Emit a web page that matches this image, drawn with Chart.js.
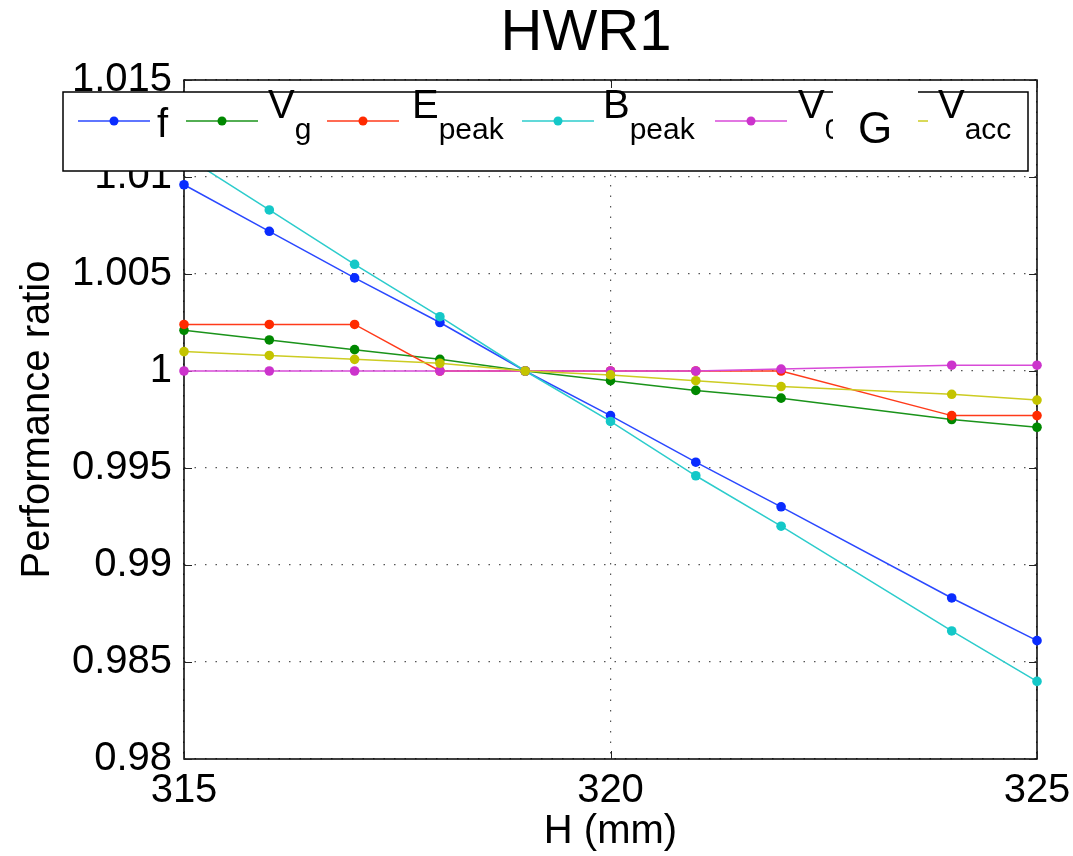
<!DOCTYPE html>
<html>
<head>
<meta charset="utf-8">
<title>HWR1</title>
<script src="https://cdn.jsdelivr.net/npm/chart.js@4.4.1/dist/chart.umd.min.js"></script>
<style>
  html, body { margin: 0; padding: 0; background: #fff; }
</style>
</head>
<body>
<canvas id="myChart" width="1073" height="856"></canvas>
<script>
// H (mm) sample positions, no point at 323
const heights = [315, 316, 317, 318, 319, 320, 321, 322, 324, 325];

// performance ratios
const fRatio     = [1.0096, 1.0072, 1.0048, 1.0025, 1.0, 0.9977, 0.9953, 0.9930, 0.9883, 0.9861];
const vgRatio    = [1.0021, 1.0016, 1.0011, 1.0006, 1.0, 0.9995, 0.9990, 0.9986, 0.9975, 0.9971];
const ePeakRatio = [1.0024, 1.0024, 1.0024, 1.0, 1.0, 1.0, 1.0, 1.0, 0.9977, 0.9977];
const bPeakRatio = [1.0111, 1.0083, 1.0055, 1.0028, 1.0, 0.9974, 0.9946, 0.9920, 0.9866, 0.9840];
const v0Ratio    = [1.0, 1.0, 1.0, 1.0, 1.0, 1.0, 1.0, 1.0001, 1.0003, 1.0003];
const vaccRatio  = [1.0010, 1.0008, 1.0006, 1.0004, 1.0, 0.9998, 0.9995, 0.9992, 0.9988, 0.9985];

const xTicks = [315, 320, 325];
const yTicks = [0.98, 0.985, 0.99, 0.995, 1, 1.005, 1.01, 1.015];
const yTickLabels = ['0.98', '0.985', '0.99', '0.995', '1', '1.005', '1.01', '1.015'];

const FONT = '"Liberation Sans", Arial, Helvetica, sans-serif';

// name, subscript, line colour, marker colour
const seriesInfo = [
    { main: 'f', sub: '',     line: '#2a48ff', dot: '#0a2cff', data: fRatio },
    { main: 'V', sub: 'g',    line: '#1a931a', dot: '#008800', data: vgRatio },
    { main: 'E', sub: 'peak', line: '#ff3a1a', dot: '#ff2a00', data: ePeakRatio },
    { main: 'B', sub: 'peak', line: '#2ccccc', dot: '#14c8c8', data: bPeakRatio },
    { main: 'V', sub: '0',    line: '#d84ad8', dot: '#cc33cc', data: v0Ratio },
    { main: 'V', sub: 'acc',  line: '#cccc22', dot: '#c4c400', data: vaccRatio },
];

// frame and inward tick marks, drawn under the data like matlab
const framePlugin = {
    id: 'frame',
    beforeDatasetsDraw(chart) {
        const { ctx, chartArea: a, scales } = chart;
        ctx.save();
        ctx.strokeStyle = '#000';
        ctx.lineWidth = 1.5;
        ctx.strokeRect(a.left, a.top, a.right - a.left, a.bottom - a.top);
        ctx.lineWidth = 1;
        ctx.strokeStyle = '#222';
        ctx.beginPath();
        yTicks.forEach(v => {
            const y = Math.round(scales.y.getPixelForValue(v)) + 0.5;
            ctx.moveTo(a.left, y); ctx.lineTo(a.left + 8, y);
            ctx.moveTo(a.right, y); ctx.lineTo(a.right - 8, y);
        });
        xTicks.forEach(v => {
            const x = Math.round(scales.x.getPixelForValue(v)) + 0.5;
            ctx.moveTo(x, a.bottom); ctx.lineTo(x, a.bottom - 8);
            ctx.moveTo(x, a.top); ctx.lineTo(x, a.top + 8);
        });
        ctx.stroke();
        ctx.restore();
    }
};

// title + legend box with subscripts (and the stray "G" box)
const overlayPlugin = {
    id: 'overlay',
    afterDraw(chart) {
        const ctx = chart.ctx;
        ctx.save();

        ctx.fillStyle = '#000';
        ctx.textAlign = 'center';
        ctx.textBaseline = 'alphabetic';
        ctx.font = '58px ' + FONT;
        ctx.fillText('HWR1', 586, 50);

        // legend frame
        ctx.fillStyle = '#fff';
        ctx.fillRect(63, 92, 965, 79);
        ctx.strokeStyle = '#000';
        ctx.lineWidth = 1.5;
        ctx.strokeRect(63, 92, 965, 79);

        const lineStarts = [78, 186, 327, 522, 715, 856];
        const textStarts = [157, 268, 412, 603, 798, 938];
        const lineY = 121;
        ctx.textAlign = 'left';
        seriesInfo.forEach((s, i) => {
            const x0 = lineStarts[i];
            ctx.strokeStyle = s.line;
            ctx.lineWidth = 1.5;
            ctx.beginPath();
            ctx.moveTo(x0, lineY);
            ctx.lineTo(x0 + 72, lineY);
            ctx.stroke();
            ctx.fillStyle = s.dot;
            ctx.beginPath();
            ctx.arc(x0 + 36, lineY, 4.5, 0, Math.PI * 2);
            ctx.fill();

            ctx.fillStyle = '#000';
            ctx.font = '40px ' + FONT;
            const tx = textStarts[i];
            if (s.sub === '') {
                ctx.fillText(s.main, tx, 137);
            } else {
                ctx.fillText(s.main, tx, 118);
                const w = ctx.measureText(s.main).width;
                ctx.font = '30px ' + FONT;
                ctx.fillText(s.sub, tx + w, 139);
            }
        });

        // white box with "G" over the legend
        ctx.fillStyle = '#fff';
        ctx.fillRect(833, 86, 85, 80);
        ctx.fillStyle = '#000';
        ctx.font = '44px ' + FONT;
        ctx.textAlign = 'center';
        ctx.fillText('G', 875, 143);

        ctx.restore();
    }
};

const ctx = document.getElementById('myChart').getContext('2d');
const myChart = new Chart(ctx, {
    type: 'line',
    data: {
        datasets: seriesInfo.map((s, i) => ({
            label: s.main + s.sub,
            data: heights.map((h, j) => ({ x: h, y: s.data[j] })),
            borderColor: s.line,
            backgroundColor: s.dot,
            pointBackgroundColor: s.dot,
            pointBorderWidth: 0,
            pointRadius: 4.8,
            borderWidth: 1.5,
            tension: 0,
            fill: false,
            clip: 10,
            order: seriesInfo.length - i, // last series on top
        })),
    },
    options: {
        responsive: false,
        animation: false,
        events: [],
        layout: { padding: { top: 80, right: 36, bottom: 0, left: 0 } },
        plugins: {
            legend: { display: false },
            title: { display: false },
            tooltip: { enabled: false },
        },
        scales: {
            x: {
                type: 'linear',
                min: 315,
                max: 325,
                afterBuildTicks: scale => { scale.ticks = xTicks.map(v => ({ value: v })); },
                afterFit: scale => {
                    scale.height = 97;
                    scale.paddingLeft = 0;
                    scale.paddingRight = 0;
                },
                ticks: {
                    color: '#000',
                    font: { family: FONT, size: 40 },
                    padding: 8,
                    maxRotation: 0,
                    autoSkip: false,
                },
                grid: { color: '#555', lineWidth: 1.2, drawTicks: false },
                border: { display: false, dash: [1.5, 9] },
                title: {
                    display: true,
                    text: 'H (mm)',
                    color: '#000',
                    font: { family: FONT, size: 40 },
                    padding: { top: 0, bottom: 0 },
                },
            },
            y: {
                type: 'linear',
                min: 0.98,
                max: 1.015,
                afterBuildTicks: scale => { scale.ticks = yTicks.map(v => ({ value: v })); },
                afterFit: scale => { scale.width = 184; },
                ticks: {
                    color: '#000',
                    font: { family: FONT, size: 40 },
                    padding: 12,
                    autoSkip: false,
                    callback: (value, index) => yTickLabels[index],
                },
                grid: { color: '#555', lineWidth: 1.2, drawTicks: false },
                border: { display: false, dash: [1.5, 9] },
                title: {
                    display: true,
                    text: 'Performance ratio',
                    color: '#000',
                    font: { family: FONT, size: 40 },
                    padding: { top: 14, bottom: 0 },
                },
            },
        },
    },
    plugins: [framePlugin, overlayPlugin],
});
</script>
</body>
</html>
